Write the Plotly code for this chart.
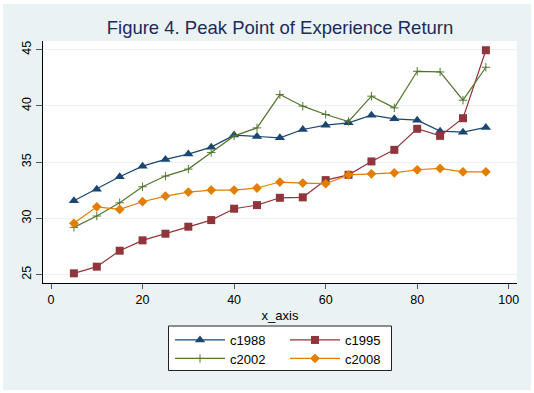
import plotly.graph_objects as go

x_vals = [5, 10, 15, 20, 25, 30, 35, 40, 45, 50, 55, 60, 65, 70, 75, 80, 85, 90, 95]
c1988 = [31.57, 32.60, 33.70, 34.64, 35.24, 35.71, 36.33, 37.40, 37.28, 37.16, 37.90, 38.28, 38.49, 39.17, 38.85, 38.73, 37.75, 37.66, 38.08]
c1995 = [25.12, 25.71, 27.13, 28.05, 28.64, 29.26, 29.85, 30.86, 31.18, 31.83, 31.87, 33.40, 33.87, 35.06, 36.09, 37.96, 37.33, 38.90, 44.94]
c2002 = [29.20, 30.21, 31.39, 32.81, 33.76, 34.38, 35.86, 37.33, 38.04, 41.00, 39.97, 39.23, 38.61, 40.86, 39.82, 43.07, 43.01, 40.50, 43.43]
c2008 = [29.56, 31.03, 30.80, 31.48, 31.98, 32.34, 32.52, 32.52, 32.70, 33.23, 33.14, 33.08, 33.87, 33.96, 34.05, 34.32, 34.44, 34.14, 34.14]

x_ticks = [0, 20, 40, 60, 80, 100]
y_ticks = [25, 30, 35, 40, 45]

FONT = "Liberation Sans, Arial, sans-serif"
W, H = 534, 393
ML, MR, MT, MB = 43, 17, 41, 110
PW = W - ML - MR
PH = H - MT - MB

def px_x(px):
    return (px - ML) / PW

def px_y(py):
    return (H - MB - py) / PH

series = [
    ("c1988", c1988, "#1A476F", "triangle-up", 9, "legend"),
    ("c1995", c1995, "#90353B", "square", 8, "legend"),
    ("c2002", c2002, "#55752F", "cross-thin", 6, "legend2"),
    ("c2008", c2008, "#E37E00", "diamond", 7.5, "legend2"),
]

fig = go.Figure()
for name, vals, col, sym, sz, lg in series:
    marker = dict(symbol=sym, size=sz, color=col)
    if sym == "cross-thin":
        marker["line"] = dict(color=col, width=1)
    fig.add_trace(go.Scatter(
        x=x_vals, y=vals, name=name, mode="lines+markers",
        line=dict(color=col, width=1.2), marker=marker, legend=lg,
    ))

shapes = [
    # white outer border strips
    dict(type="rect", xref="paper", yref="paper", x0=px_x(0), x1=px_x(3), y0=px_y(H), y1=px_y(0),
         fillcolor="white", line=dict(width=0), layer="above"),
    dict(type="rect", xref="paper", yref="paper", x0=px_x(531), x1=px_x(W), y0=px_y(H), y1=px_y(0),
         fillcolor="white", line=dict(width=0), layer="above"),
    dict(type="rect", xref="paper", yref="paper", x0=px_x(0), x1=px_x(W), y0=px_y(4), y1=px_y(0),
         fillcolor="white", line=dict(width=0), layer="above"),
    dict(type="rect", xref="paper", yref="paper", x0=px_x(0), x1=px_x(W), y0=px_y(H), y1=px_y(390),
         fillcolor="white", line=dict(width=0), layer="above"),
    # legend box
    dict(type="rect", xref="paper", yref="paper", x0=px_x(168.5), x1=px_x(391.5), y0=px_y(370.5), y1=px_y(326),
         fillcolor="white", line=dict(color="#222222", width=1), layer="above"),
]

legend_common = dict(
    orientation="h", xanchor="left", yanchor="middle",
    bgcolor="rgba(0,0,0,0)", borderwidth=0,
    font=dict(family=FONT, size=13, color="black"),
    itemwidth=50, entrywidth=50, entrywidthmode="pixels",
    tracegroupgap=0,
)

fig.update_layout(
    width=W, height=H,
    margin=dict(l=ML, r=MR, t=MT, b=MB, pad=0),
    paper_bgcolor="#EAF2F3",
    plot_bgcolor="white",
    font=dict(family=FONT, size=12.5, color="black"),
    title=dict(text="Figure 4. Peak Point of Experience Return",
               x=0.5, xref="paper", xanchor="center",
               y=1 - 28 / H, yref="container", yanchor="middle",
               font=dict(family=FONT, size=18.5, color="#1C2B58")),
    xaxis=dict(range=[-1.75, 101.8], tickvals=x_ticks, ticktext=[str(v) for v in x_ticks],
               showgrid=False, zeroline=False, showline=True, linecolor="black", linewidth=1,
               ticks="outside", ticklen=5, tickcolor="#555555", tickwidth=1,
               tickfont=dict(family=FONT, size=12.5, color="black"),
               title=dict(text="x_axis", font=dict(family=FONT, size=13, color="black"), standoff=4)),
    yaxis=dict(range=[24.26, 45.76], tickvals=y_ticks, ticktext=[str(v) for v in y_ticks],
               showgrid=True, gridcolor="#EAF2F3", gridwidth=1, zeroline=False,
               showline=True, linecolor="black", linewidth=1,
               ticks="outside", ticklen=6, tickcolor="#555555", tickwidth=1, tickangle=-90,
               tickfont=dict(family=FONT, size=12.5, color="black")),
    legend=dict(x=px_x(170), y=px_y(340), **legend_common),
    legend2=dict(x=px_x(170), y=px_y(358.5), **legend_common),
    shapes=shapes,
    showlegend=True,
)

fig.write_html("out.html", config={"displayModeBar": False},
               post_script="document.body.style.margin='0';document.body.style.padding='0';")
